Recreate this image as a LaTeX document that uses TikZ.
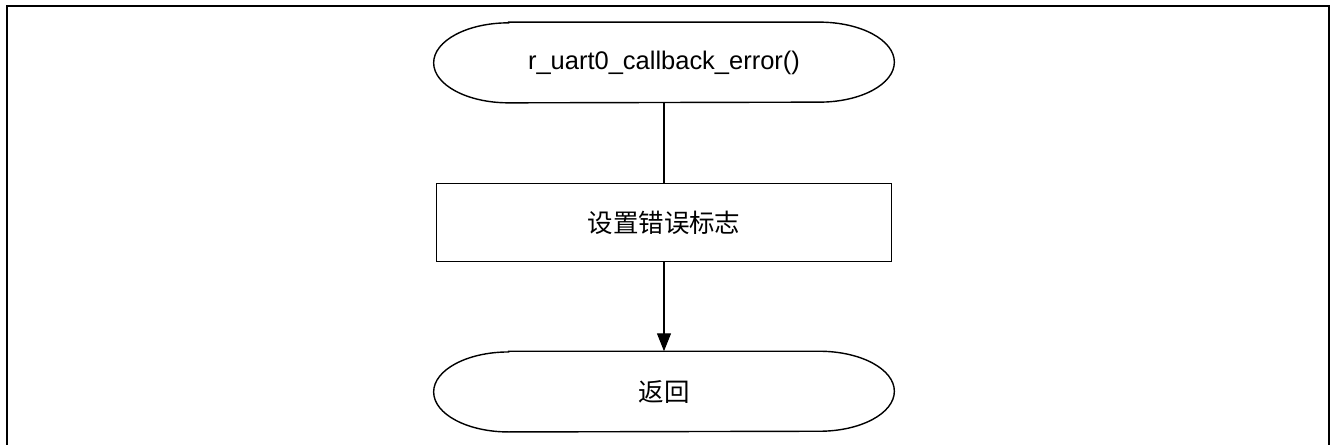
\documentclass[tikz,border=0pt]{standalone}
\usepackage{fontspec}
\setmainfont{Liberation Sans}
\newfontfamily\cjk{Noto Sans CJK SC}
\usetikzlibrary{arrows.meta, positioning}

% outline of a start/end node: straight top and bottom, half-ellipse ends
\newcommand{\drawterminal}[1]{%
  \draw[line width=0.8pt] ([xshift=1.5cm]#1.north west) -- ([xshift=-1.5cm]#1.north east)
    arc[start angle=90, end angle=-90, x radius=1.5cm, y radius=0.8cm]
    -- ([xshift=1.5cm]#1.south west)
    arc[start angle=270, end angle=90, x radius=1.5cm, y radius=0.8cm] -- cycle;}

\begin{document}
\begin{tikzpicture}[node distance=1.6cm, font=\fontsize{14.5}{17}\selectfont]

% Define styles for the nodes
\tikzstyle{terminal} = [rectangle, minimum height=1.6cm, minimum width=9.2cm, inner sep=0pt, text centered]
\tikzstyle{process} = [rectangle, draw=black, line width=0.8pt, minimum height=1.56cm, minimum width=9.1cm, text centered]
\tikzstyle{flow} = [line width=0.8pt]

\useasboundingbox (0,0) rectangle (26.64,8.9);
\clip (0,0) rectangle (26.64,8.9);

% Frame
\draw[line width=1.5pt] (0.14,-1) rectangle (26.58,8.78);

% Nodes
\node (start) [terminal] at (13.28,7.65) {r\_uart0\_callback\_error()};
\node (seterr) [process, below=1.6cm of start] {\cjk 设置错误标志};
\node (ret) [terminal, below=1.78cm of seterr] {\cjk 返回};

\drawterminal{start}
\drawterminal{ret}

% Arrows
\draw[flow] (start) -- (seterr);
\draw[flow, -{Triangle[length=0.36cm, width=0.28cm]}] (seterr) -- (ret);

\end{tikzpicture}
\end{document}
